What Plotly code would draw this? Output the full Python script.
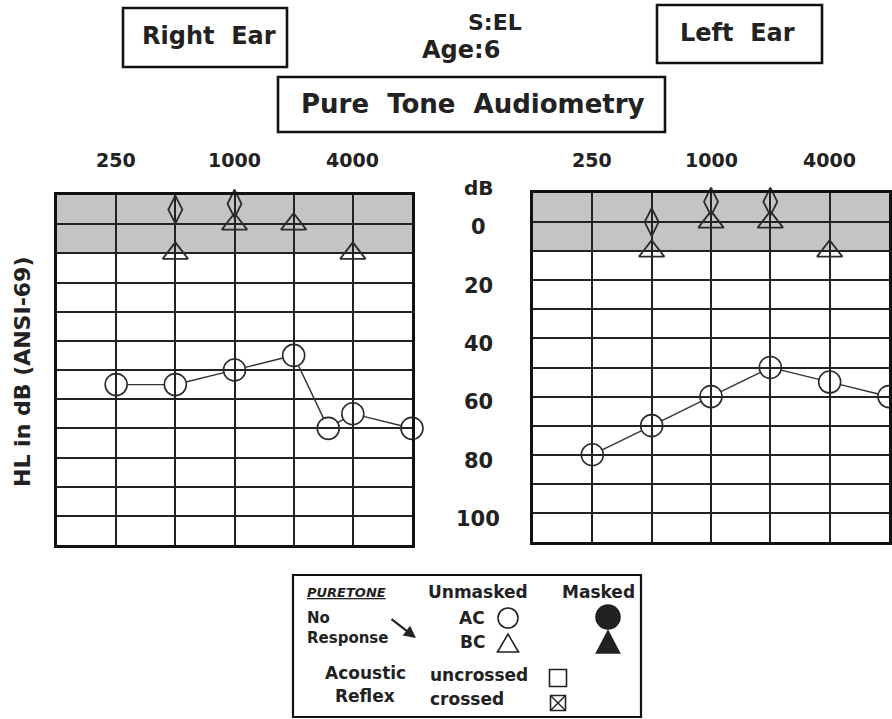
import numpy as np
import plotly.graph_objects as go

W, H = 892, 719

# ---- data -------------------------------------------------------------
grid_freqs = [250, 500, 1000, 2000, 4000]
label_freqs = [250, 1000, 4000]
label_texts = ["250", "1000", "4000"]
grid_db = list(range(0, 101, 10))
db_label_vals = [0, 20, 40, 60, 80, 100]
db_label_texts = ["0", "20", "40", "60", "80", "100"]

right_ac_freq = [250, 500, 1000, 2000, 3000, 4000, 8000]
right_ac_db = [55, 55, 50, 45, 70, 65, 70]
right_bc_freq = [500, 1000, 2000, 4000]
right_bc_db = [10, 0, 0, 10]
right_dia_freq = [500, 1000]
right_dia_db = [-5, -7]

left_ac_freq = [250, 500, 1000, 2000, 4000, 8000]
left_ac_db = [80, 70, 60, 50, 55, 60]
left_bc_freq = [500, 1000, 2000, 4000]
left_bc_db = [10, 0, 0, 10]
left_dia_freq = [500, 1000, 2000]
left_dia_db = [0, -7, -7]

F_MIN, F_MAX = 125, 8000
DB_TOP, DB_BOT = -10, 110

# panel frames in pixels
RIGHT = dict(x0=57, x1=412, y0=195, y1=545)
LEFT = dict(x0=533, x1=889, y0=193, y1=542)

FONT = "DejaVu Sans"
INK = "#222222"


def px(x):
    return x / W


def py(y):
    return 1 - y / H


def trimmed_path(freqs, dbs, box, r=11.0):
    """Connecting segments between symbols, stopped at the circle edges."""
    lx0, lx1 = np.log10(F_MIN), np.log10(F_MAX)
    sx = (box["x1"] - box["x0"]) / (lx1 - lx0)
    sy = (box["y1"] - box["y0"]) / (DB_BOT - DB_TOP)
    qx = (np.log10(freqs) - lx0) * sx
    qy = (np.asarray(dbs, float) - DB_TOP) * sy
    xs, ys = [], []
    for i in range(len(qx) - 1):
        dx, dy = qx[i + 1] - qx[i], qy[i + 1] - qy[i]
        L = np.hypot(dx, dy)
        ux, uy = dx / L, dy / L
        for ax_, ay_ in [(qx[i] + r * ux, qy[i] + r * uy),
                         (qx[i + 1] - r * ux, qy[i + 1] - r * uy)]:
            xs.append(10 ** (ax_ / sx + lx0))
            ys.append(ay_ / sy + DB_TOP)
        xs.append(None)
        ys.append(None)
    return xs, ys


fig = go.Figure()


def add_ear(ac_f, ac_db, bc_f, bc_db, dia_f, dia_db, box, xa, ya):
    lx, ly = trimmed_path(ac_f, ac_db, box)
    fig.add_trace(go.Scatter(x=lx, y=ly, mode="lines", xaxis=xa, yaxis=ya,
                             line=dict(color="#333", width=1.4),
                             hoverinfo="skip", showlegend=False, cliponaxis=False))
    fig.add_trace(go.Scatter(x=ac_f, y=ac_db, mode="markers", xaxis=xa, yaxis=ya,
                             marker=dict(symbol="circle-open", size=22,
                                         color="#2a2a2a", line=dict(width=1.6)),
                             showlegend=False, cliponaxis=False))
    fig.add_trace(go.Scatter(x=dia_f, y=dia_db, mode="markers", xaxis=xa, yaxis=ya,
                             marker=dict(symbol="diamond-tall-open", size=20,
                                         color="#2a2a2a", line=dict(width=1.8)),
                             showlegend=False, cliponaxis=False))
    fig.add_trace(go.Scatter(x=bc_f, y=bc_db, mode="markers", xaxis=xa, yaxis=ya,
                             marker=dict(symbol="triangle-up-open", size=22,
                                         color="#2a2a2a", line=dict(width=1.8)),
                             showlegend=False, cliponaxis=False))


add_ear(right_ac_freq, right_ac_db, right_bc_freq, right_bc_db,
        right_dia_freq, right_dia_db, RIGHT, "x", "y")
add_ear(left_ac_freq, left_ac_db, left_bc_freq, left_bc_db,
        left_dia_freq, left_dia_db, LEFT, "x2", "y2")


def xaxis_cfg(box, anchor):
    return dict(type="log", range=[np.log10(F_MIN), np.log10(F_MAX)],
                domain=[px(box["x0"]), px(box["x1"])], anchor=anchor,
                tickvals=grid_freqs, showticklabels=False, ticks="",
                showgrid=True, gridcolor="#222", gridwidth=1.7,
                showline=True, mirror=True, linecolor="#111", linewidth=3,
                zeroline=False, fixedrange=True)


def yaxis_cfg(box, anchor):
    return dict(range=[DB_BOT, DB_TOP], domain=[py(box["y1"]), py(box["y0"])],
                anchor=anchor, tickvals=grid_db, showticklabels=False, ticks="",
                showgrid=True, gridcolor="#222", gridwidth=1.7,
                showline=True, mirror=True, linecolor="#111", linewidth=3,
                zeroline=False, fixedrange=True)


def fnt(size):
    return dict(family=FONT, size=size, color=INK, weight="bold")


shapes = []
annotations = []

# shaded band of the normal-hearing zone
for xr, yr in [("x domain", "y"), ("x2 domain", "y2")]:
    shapes.append(dict(type="rect", xref=xr, yref=yr, x0=0, x1=1, y0=-10, y1=10,
                       fillcolor="#c4c4c4", line=dict(width=0), layer="below"))

# frequency labels above each panel
for xr in ["x", "x2"]:
    for f, t in zip(label_freqs, label_texts):
        annotations.append(dict(xref=xr, yref="paper", x=np.log10(f), y=py(160),
                                text=t, showarrow=False, yanchor="middle",
                                font=fnt(19)))

# dB scale between the panels
annotations.append(dict(xref="paper", yref="paper", x=px(479), y=py(188),
                        text="dB", showarrow=False, yanchor="middle",
                        font=fnt(20)))
for v, t in zip(db_label_vals, db_label_texts):
    annotations.append(dict(xref="paper", yref="y", x=px(478), y=v, text=t,
                            showarrow=False, yanchor="middle", yshift=-3,
                            font=fnt(21)))

# vertical axis title
annotations.append(dict(xref="paper", yref="paper", x=px(22), y=py(372),
                        text="HL in dB (ANSI-69)", textangle=-90, showarrow=False,
                        xanchor="center", yanchor="middle", font=fnt(22)))


def box_shape(x0, y0, x1, y1, w=2.6):
    return dict(type="rect", xref="paper", yref="paper",
                x0=px(x0), x1=px(x1), y0=py(y1), y1=py(y0),
                line=dict(color="#111", width=w), fillcolor="rgba(0,0,0,0)")


def text(x, y, s, size, anchor="center", **kw):
    annotations.append(dict(xref="paper", yref="paper", x=px(x), y=py(y), text=s,
                            showarrow=False, xanchor=anchor, yanchor="middle",
                            font=fnt(size), **kw))


# header boxes
shapes.append(box_shape(123, 8, 287, 67))
text(209, 36, "Right\u00a0 Ear", 24)
shapes.append(box_shape(657, 5, 822, 63))
text(737, 33, "Left\u00a0 Ear", 24)
text(495, 22, "S:EL", 22)
text(461, 50, "Age:6", 24)
shapes.append(box_shape(278, 77, 665, 132))
text(473, 104, "Pure\u00a0 Tone\u00a0 Audiometry", 26)

# symbol key
shapes.append(box_shape(293, 575, 641, 717, w=2.2))
text(305, 592, "<i><u>PURETONE</u></i>", 13, anchor="left")
text(478, 592, "Unmasked", 17)
text(598, 592, "Masked", 17)
text(305, 618, "No", 15, anchor="left")
text(305, 638, "Response", 15, anchor="left")
text(472, 618, "AC", 17)
text(472, 642, "BC", 17)
text(365, 673, "Acoustic", 17)
text(365, 696, "Reflex", 17)
text(428, 675, "uncrossed", 17, anchor="left")
text(428, 699, "crossed", 17, anchor="left")

# arrow for "no response"
annotations.append(dict(xref="paper", yref="paper", x=px(416), y=py(638),
                        ax=-26, ay=-20, axref="pixel", ayref="pixel", text="",
                        showarrow=True, arrowhead=2, arrowsize=1.1,
                        arrowwidth=2.2, arrowcolor="#222"))


def circle(cx, cy, r, filled):
    shapes.append(dict(type="circle", xref="paper", yref="paper",
                       x0=px(cx - r), x1=px(cx + r), y0=py(cy + r), y1=py(cy - r),
                       line=dict(color="#222", width=1.6),
                       fillcolor="#222" if filled else "rgba(0,0,0,0)"))


def triangle(cx, cy, w, h, filled):
    pts = [(cx - w / 2, cy + h / 2), (cx + w / 2, cy + h / 2), (cx, cy - h / 2)]
    path = "M " + " L ".join(f"{px(a):.5f},{py(b):.5f}" for a, b in pts) + " Z"
    shapes.append(dict(type="path", xref="paper", yref="paper", path=path,
                       line=dict(color="#222", width=1.6),
                       fillcolor="#222" if filled else "rgba(0,0,0,0)"))


def square(cx, cy, s, crossed):
    shapes.append(dict(type="rect", xref="paper", yref="paper",
                       x0=px(cx - s / 2), x1=px(cx + s / 2),
                       y0=py(cy + s / 2), y1=py(cy - s / 2),
                       line=dict(color="#222", width=1.6)))
    if crossed:
        for (a, b), (c, d) in [((cx - s / 2, cy - s / 2), (cx + s / 2, cy + s / 2)),
                               ((cx - s / 2, cy + s / 2), (cx + s / 2, cy - s / 2))]:
            shapes.append(dict(type="line", xref="paper", yref="paper",
                               x0=px(a), y0=py(b), x1=px(c), y1=py(d),
                               line=dict(color="#222", width=1.4)))


circle(508, 618, 10, False)
triangle(508, 643, 21, 18, False)
circle(608, 617, 12, True)
triangle(608, 642, 23, 22, True)
square(558, 678, 17, False)
square(558, 703, 15, True)

fig.update_layout(
    width=W, height=H, margin=dict(l=0, r=0, t=0, b=0),
    paper_bgcolor="white", plot_bgcolor="white",
    xaxis=xaxis_cfg(RIGHT, "y"), yaxis=yaxis_cfg(RIGHT, "x"),
    xaxis2=xaxis_cfg(LEFT, "y2"), yaxis2=yaxis_cfg(LEFT, "x2"),
    shapes=shapes, annotations=annotations, showlegend=False,
)

fig.write_html("out.html")
